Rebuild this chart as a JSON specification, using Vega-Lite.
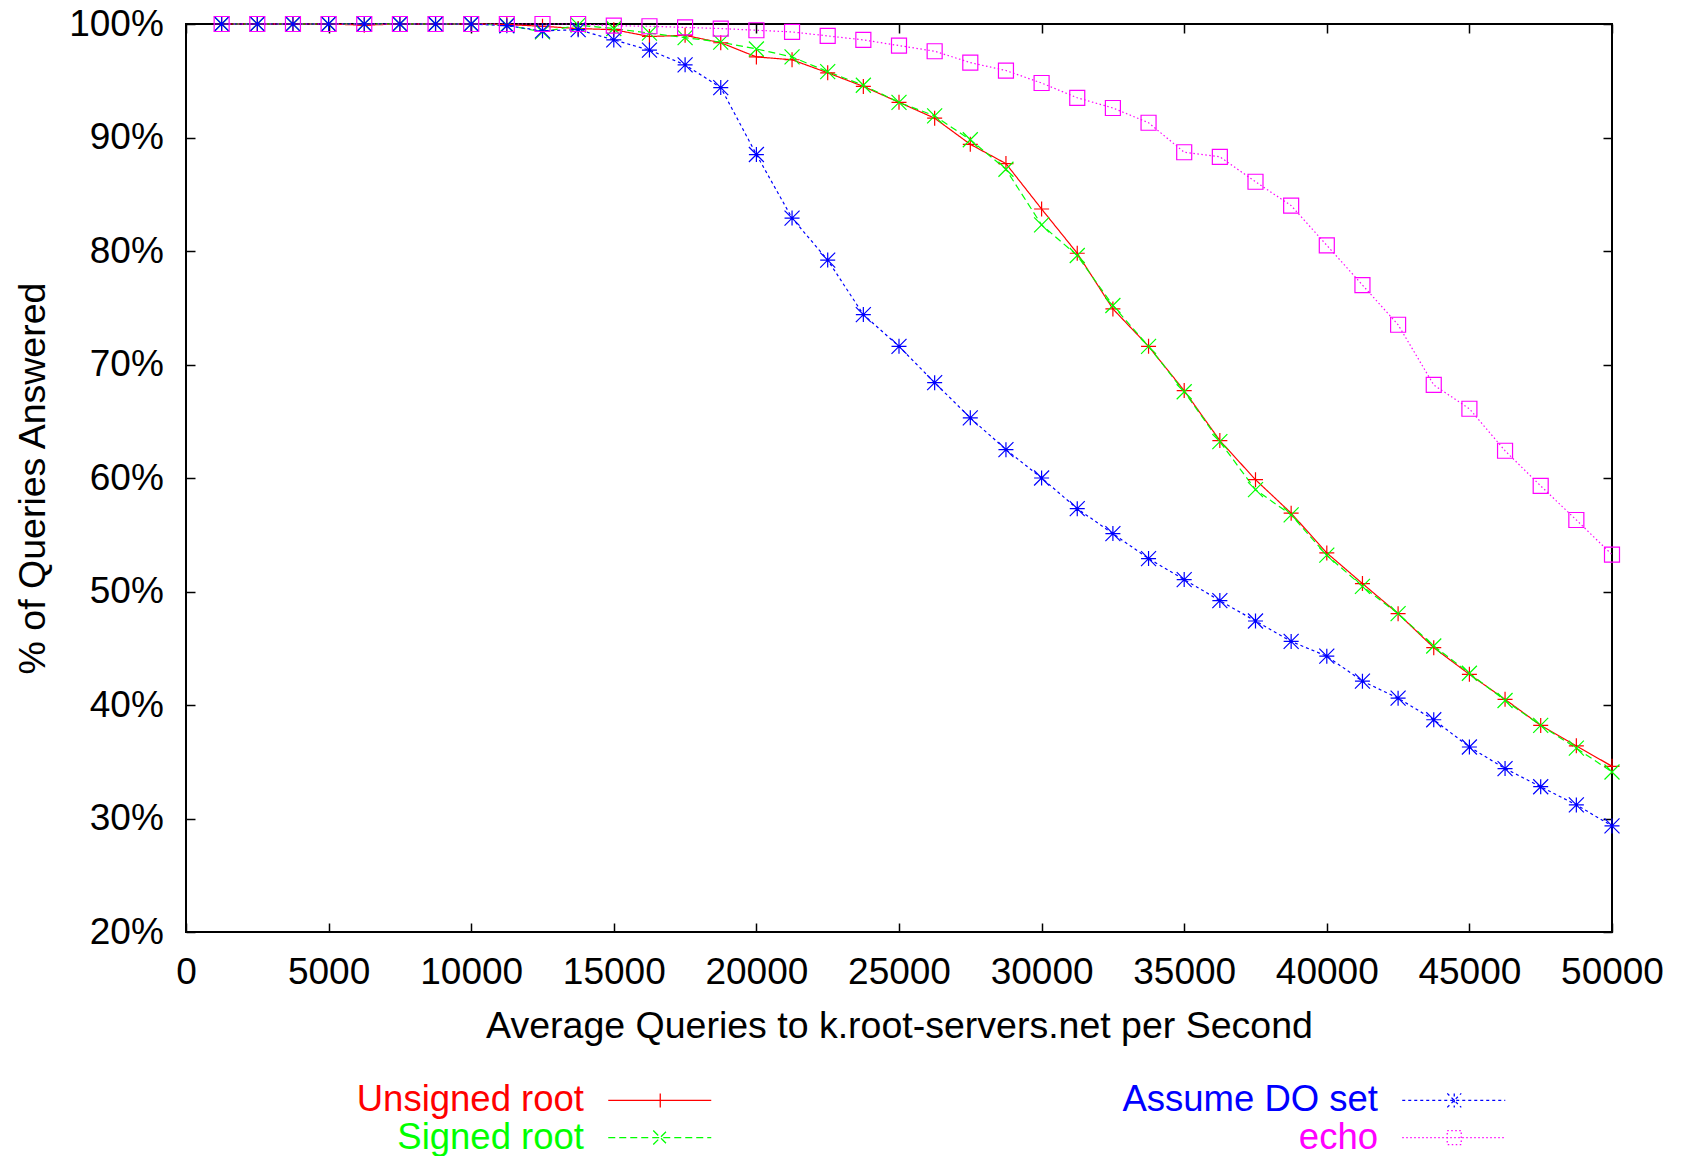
{
  "$schema": "https://vega.github.io/schema/vega-lite/v6.json",
  "width": 1426,
  "height": 908,
  "autosize": {"type": "none"},
  "padding": {"left": 186, "top": 24, "right": 71, "bottom": 224},
  "background": "white",
  "config": {
    "view": {"stroke": "#000", "strokeWidth": 2},
    "font": "Liberation Sans",
    "axis": {
      "grid": false,
      "domain": false,
      "tickSize": -9,
      "tickWidth": 1.5,
      "tickColor": "#000",
      "labelFont": "Liberation Sans",
      "labelFontSize": 37,
      "labelColor": "#000",
      "labelOverlap": false,
      "labelFlush": false,
      "titleFont": "Liberation Sans",
      "titleFontSize": 37.5,
      "titleFontWeight": "normal",
      "titleColor": "#000"
    }
  },
  "data": {
    "values": [
      {"q": 1250, "Unsigned root": 100, "Signed root": 100, "Assume DO set": 100, "echo": 100},
      {"q": 2500, "Unsigned root": 100, "Signed root": 100, "Assume DO set": 100, "echo": 100},
      {"q": 3750, "Unsigned root": 100, "Signed root": 100, "Assume DO set": 100, "echo": 100},
      {"q": 5000, "Unsigned root": 100, "Signed root": 100, "Assume DO set": 100, "echo": 100},
      {"q": 6250, "Unsigned root": 99.9, "Signed root": 100, "Assume DO set": 100, "echo": 100},
      {"q": 7500, "Unsigned root": 100, "Signed root": 100, "Assume DO set": 100, "echo": 100},
      {"q": 8750, "Unsigned root": 100, "Signed root": 100, "Assume DO set": 100, "echo": 100},
      {"q": 10000, "Unsigned root": 100, "Signed root": 100, "Assume DO set": 100, "echo": 100},
      {"q": 11250, "Unsigned root": 99.95, "Signed root": 99.9, "Assume DO set": 99.85, "echo": 100},
      {"q": 12500, "Unsigned root": 99.8, "Signed root": 99.3, "Assume DO set": 99.4, "echo": 100},
      {"q": 13750, "Unsigned root": 99.6, "Signed root": 99.9, "Assume DO set": 99.5, "echo": 100},
      {"q": 15000, "Unsigned root": 99.5, "Signed root": 99.6, "Assume DO set": 98.6, "echo": 99.85},
      {"q": 16250, "Unsigned root": 98.9, "Signed root": 99.2, "Assume DO set": 97.7, "echo": 99.8},
      {"q": 17500, "Unsigned root": 99.0, "Signed root": 98.8, "Assume DO set": 96.4, "echo": 99.7},
      {"q": 18750, "Unsigned root": 98.35, "Signed root": 98.4, "Assume DO set": 94.4, "echo": 99.6},
      {"q": 20000, "Unsigned root": 97.1, "Signed root": 97.8, "Assume DO set": 88.5, "echo": 99.45},
      {"q": 21250, "Unsigned root": 96.85, "Signed root": 97.1, "Assume DO set": 82.9, "echo": 99.3},
      {"q": 22500, "Unsigned root": 95.7, "Signed root": 95.8, "Assume DO set": 79.2, "echo": 98.95},
      {"q": 23750, "Unsigned root": 94.5, "Signed root": 94.6, "Assume DO set": 74.4, "echo": 98.6},
      {"q": 25000, "Unsigned root": 93.1, "Signed root": 93.1, "Assume DO set": 71.6, "echo": 98.1},
      {"q": 26250, "Unsigned root": 91.7, "Signed root": 91.9, "Assume DO set": 68.4, "echo": 97.6},
      {"q": 27500, "Unsigned root": 89.4, "Signed root": 89.8, "Assume DO set": 65.3, "echo": 96.6},
      {"q": 28750, "Unsigned root": 87.7, "Signed root": 87.2, "Assume DO set": 62.5, "echo": 95.9},
      {"q": 30000, "Unsigned root": 83.7, "Signed root": 82.3, "Assume DO set": 60.0, "echo": 94.8},
      {"q": 31250, "Unsigned root": 79.8, "Signed root": 79.6, "Assume DO set": 57.3, "echo": 93.5},
      {"q": 32500, "Unsigned root": 74.9, "Signed root": 75.2, "Assume DO set": 55.1, "echo": 92.6},
      {"q": 33750, "Unsigned root": 71.6, "Signed root": 71.6, "Assume DO set": 52.9, "echo": 91.3},
      {"q": 35000, "Unsigned root": 67.7, "Signed root": 67.6, "Assume DO set": 51.05, "echo": 88.7},
      {"q": 36250, "Unsigned root": 63.3, "Signed root": 63.2, "Assume DO set": 49.2, "echo": 88.3},
      {"q": 37500, "Unsigned root": 59.85, "Signed root": 58.97, "Assume DO set": 47.4, "echo": 86.1},
      {"q": 38750, "Unsigned root": 56.9, "Signed root": 56.75, "Assume DO set": 45.6, "echo": 84.0},
      {"q": 40000, "Unsigned root": 53.4, "Signed root": 53.2, "Assume DO set": 44.3, "echo": 80.5},
      {"q": 41250, "Unsigned root": 50.7, "Signed root": 50.45, "Assume DO set": 42.1, "echo": 77.0},
      {"q": 42500, "Unsigned root": 48.05, "Signed root": 48.05, "Assume DO set": 40.6, "echo": 73.5},
      {"q": 43750, "Unsigned root": 45.05, "Signed root": 45.2, "Assume DO set": 38.7, "echo": 68.2},
      {"q": 45000, "Unsigned root": 42.7, "Signed root": 42.8, "Assume DO set": 36.3, "echo": 66.1},
      {"q": 46250, "Unsigned root": 40.5, "Signed root": 40.4, "Assume DO set": 34.4, "echo": 62.4},
      {"q": 47500, "Unsigned root": 38.2, "Signed root": 38.2, "Assume DO set": 32.8, "echo": 59.3},
      {"q": 48750, "Unsigned root": 36.4, "Signed root": 36.2, "Assume DO set": 31.2, "echo": 56.3},
      {"q": 50000, "Unsigned root": 34.6, "Signed root": 34.1, "Assume DO set": 29.35, "echo": 53.25}
    ]
  },
  "transform": [
    {"fold": ["Unsigned root", "Signed root", "Assume DO set", "echo"], "as": ["series", "pct"]}
  ],
  "resolve": {"scale": {"color": "independent"}},
  "layer": [
    {
      "mark": {"type": "line", "strokeWidth": 1.2, "clip": false},
      "encoding": {
        "x": {
          "field": "q", "type": "quantitative",
          "scale": {"domain": [0, 50000], "nice": false, "zero": false},
          "axis": {
            "orient": "bottom",
            "values": [0, 5000, 10000, 15000, 20000, 25000, 30000, 35000, 40000, 45000, 50000],
            "format": "d",
            "labelPadding": 31,
            "title": "Average Queries to k.root-servers.net per Second",
            "titleX": 713, "titleY": 105, "titleBaseline": "alphabetic", "titleAlign": "center"
          }
        },
        "y": {
          "field": "pct", "type": "quantitative",
          "scale": {"domain": [20, 100], "nice": false, "zero": false},
          "axis": {
            "orient": "left",
            "values": [20, 30, 40, 50, 60, 70, 80, 90, 100],
            "labelExpr": "datum.value + '%'",
            "labelPadding": 31.7,
            "title": "% of Queries Answered",
            "titleAngle": 270, "titleX": -142, "titleY": 454,
            "titleBaseline": "alphabetic", "titleAlign": "center"
          }
        },
        "color": {
          "field": "series", "type": "nominal",
          "scale": {
            "domain": ["Unsigned root", "Signed root", "Assume DO set", "echo"],
            "range": ["#ff0000", "#00ff00", "#0000ff", "#ff00ff"]
          },
          "legend": {
            "orient": "none", "legendX": 102, "legendY": 1058,
            "columns": 2, "columnPadding": 368, "rowPadding": 0.3, "padding": 0,
            "title": null,
            "labelFont": "Liberation Sans", "labelFontSize": 36.5, "labelLimit": 600,
            "labelAlign": "right", "labelOffset": 259.5,
            "symbolSize": 400, "symbolStrokeWidth": 1.3, "symbolOffset": 0,
            "encode": {
              "symbols": {
                "update": {
                  "shape": {"signal": "datum.value === 'Unsigned root' ? 'M30.2,0H40.5M35.4,-0.7V0.7' : datum.value === 'Signed root' ? 'M30.2,0H40.5M34.7,-0.7L36.1,0.7M34.7,0.7L36.1,-0.7' : datum.value === 'Assume DO set' ? 'M30.2,0H40.5M35.4,-0.7V0.7M34.7,-0.7L36.1,0.7M34.7,0.7L36.1,-0.7' : 'M30.2,0H40.5M34.7,-0.7H36.1V0.7H34.7Z'"},
                  "strokeDash": {"signal": "datum.value === 'Signed root' ? [7,4] : datum.value === 'Assume DO set' ? [3,3] : datum.value === 'echo' ? [1.5,2.5] : [1,0]"},
                  "fill": {"value": "transparent"}
                }
              },
              "labels": {
                "update": {
                  "fill": {"signal": "datum.value === 'Unsigned root' ? '#ff0000' : datum.value === 'Signed root' ? '#00ff00' : datum.value === 'Assume DO set' ? '#0000ff' : '#ff00ff'"}
                }
              }
            }
          }
        },
        "strokeDash": {
          "field": "series", "type": "nominal",
          "scale": {
            "domain": ["Unsigned root", "Signed root", "Assume DO set", "echo"],
            "range": [[1, 0], [7, 4], [3, 3], [1.5, 2.5]]
          },
          "legend": null
        }
      }
    },
    {
      "mark": {"type": "point", "filled": false, "strokeWidth": 1.2, "size": 225, "opacity": 1, "clip": false},
      "encoding": {
        "x": {
          "field": "q", "type": "quantitative",
          "axis": {
            "orient": "top",
            "values": [0, 5000, 10000, 15000, 20000, 25000, 30000, 35000, 40000, 45000, 50000],
            "labels": false, "title": null
          }
        },
        "y": {
          "field": "pct", "type": "quantitative",
          "axis": {
            "orient": "right",
            "values": [20, 30, 40, 50, 60, 70, 80, 90, 100],
            "labels": false, "title": null
          }
        },
        "color": {
          "field": "series", "type": "nominal",
          "scale": {
            "domain": ["Unsigned root", "Signed root", "Assume DO set", "echo"],
            "range": ["#ff0000", "#00ff00", "#0000ff", "#ff00ff"]
          },
          "legend": null
        },
        "shape": {
          "field": "series", "type": "nominal",
          "scale": {
            "domain": ["Unsigned root", "Signed root", "Assume DO set", "echo"],
            "range": ["M-1,0H1M0,-1V1", "M-1,-1L1,1M-1,1L1,-1", "M-1,0H1M0,-1V1M-1,-1L1,1M-1,1L1,-1", "square"]
          },
          "legend": null
        }
      }
    }
  ]
}
